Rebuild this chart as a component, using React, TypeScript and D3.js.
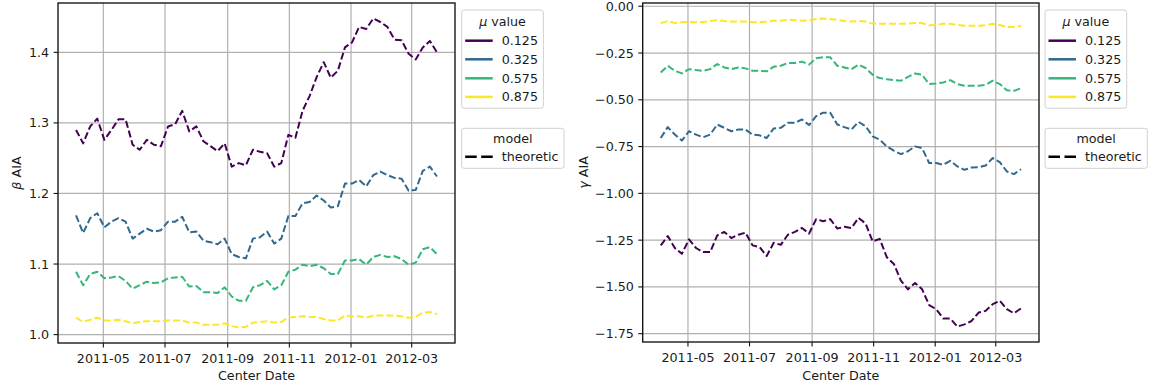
import React from 'react';
import * as d3 from 'd3';

const START_DATE = '2011-04-04';
const N_WEEKS = 52;
const MU_LABELS = ['0.125', '0.325', '0.575', '0.875'];
const MU_COLORS = ['#440154', '#31688e', '#35b779', '#fde725'];
const X_LABEL = 'Center Date';

const betaMu0125 = [
  1.290, 1.271, 1.295, 1.306, 1.276, 1.290, 1.305, 1.305, 1.269, 1.262,
  1.276, 1.269, 1.267, 1.295, 1.298, 1.317, 1.288, 1.295, 1.274, 1.267,
  1.260, 1.271, 1.238, 1.243, 1.240, 1.262, 1.259, 1.257, 1.238, 1.243,
  1.283, 1.279, 1.317, 1.338, 1.365, 1.386, 1.364, 1.374, 1.407, 1.414,
  1.436, 1.433, 1.448, 1.443, 1.436, 1.418, 1.417, 1.398, 1.390, 1.407,
  1.416, 1.400,
];
const betaMu0325 = [
  1.169, 1.144, 1.165, 1.172, 1.152, 1.160, 1.165, 1.160, 1.136, 1.143,
  1.150, 1.146, 1.148, 1.160, 1.160, 1.167, 1.145, 1.146, 1.133, 1.131,
  1.128, 1.136, 1.114, 1.110, 1.108, 1.136, 1.138, 1.146, 1.129, 1.136,
  1.168, 1.168, 1.186, 1.188, 1.197, 1.190, 1.180, 1.182, 1.214, 1.214,
  1.219, 1.210, 1.226, 1.231, 1.226, 1.222, 1.221, 1.204, 1.205, 1.232,
  1.238, 1.224,
];
const betaMu0575 = [
  1.089, 1.070, 1.086, 1.089, 1.080, 1.081, 1.083, 1.076, 1.065, 1.070,
  1.075, 1.073, 1.074, 1.080, 1.081, 1.082, 1.068, 1.069, 1.060, 1.060,
  1.059, 1.067, 1.054, 1.048, 1.048, 1.067, 1.070, 1.076, 1.064, 1.070,
  1.089, 1.092, 1.099, 1.097, 1.099, 1.094, 1.086, 1.086, 1.105, 1.105,
  1.107, 1.099, 1.110, 1.113, 1.110, 1.111, 1.107, 1.099, 1.102, 1.121,
  1.124, 1.114,
];
const betaMu0875 = [
  1.024, 1.018, 1.021, 1.024, 1.020, 1.020, 1.021, 1.019, 1.016, 1.018,
  1.019, 1.019, 1.019, 1.020, 1.020, 1.020, 1.017, 1.017, 1.014, 1.014,
  1.014, 1.016, 1.012, 1.010, 1.011, 1.017, 1.018, 1.019, 1.017, 1.018,
  1.024, 1.025, 1.026, 1.025, 1.025, 1.022, 1.020, 1.020, 1.027, 1.026,
  1.026, 1.024, 1.027, 1.027, 1.027, 1.027, 1.026, 1.024, 1.025, 1.031,
  1.032, 1.029,
];

const gammaMu0125 = [
  -1.278, -1.228, -1.292, -1.323, -1.246, -1.292, -1.314, -1.314, -1.224, -1.206,
  -1.239, -1.221, -1.210, -1.278, -1.287, -1.335, -1.264, -1.275, -1.221, -1.206,
  -1.185, -1.215, -1.138, -1.149, -1.138, -1.188, -1.179, -1.185, -1.131, -1.161,
  -1.257, -1.243, -1.341, -1.377, -1.466, -1.513, -1.479, -1.512, -1.597, -1.619,
  -1.669, -1.669, -1.712, -1.700, -1.682, -1.637, -1.628, -1.592, -1.574, -1.619,
  -1.641, -1.615,
];
const gammaMu0325 = [
  -0.704, -0.646, -0.686, -0.718, -0.668, -0.686, -0.700, -0.686, -0.632, -0.650,
  -0.668, -0.659, -0.659, -0.686, -0.690, -0.704, -0.653, -0.650, -0.623, -0.623,
  -0.605, -0.635, -0.587, -0.569, -0.569, -0.632, -0.646, -0.659, -0.618, -0.641,
  -0.695, -0.713, -0.749, -0.772, -0.790, -0.775, -0.749, -0.758, -0.838, -0.838,
  -0.847, -0.826, -0.856, -0.874, -0.862, -0.860, -0.851, -0.811, -0.833, -0.883,
  -0.897, -0.871,
];
const gammaMu0575 = [
  -0.354, -0.318, -0.345, -0.359, -0.336, -0.341, -0.345, -0.336, -0.309, -0.327,
  -0.336, -0.327, -0.332, -0.345, -0.345, -0.348, -0.323, -0.318, -0.303, -0.303,
  -0.296, -0.312, -0.278, -0.273, -0.273, -0.318, -0.327, -0.336, -0.312, -0.330,
  -0.366, -0.384, -0.390, -0.395, -0.398, -0.377, -0.359, -0.366, -0.416, -0.413,
  -0.407, -0.395, -0.416, -0.425, -0.425, -0.425, -0.420, -0.398, -0.416, -0.449,
  -0.452, -0.438,
];
const gammaMu0875 = [
  -0.090, -0.079, -0.090, -0.086, -0.084, -0.086, -0.084, -0.079, -0.075, -0.079,
  -0.082, -0.082, -0.082, -0.086, -0.086, -0.082, -0.077, -0.077, -0.072, -0.075,
  -0.077, -0.075, -0.068, -0.065, -0.068, -0.073, -0.079, -0.082, -0.079, -0.082,
  -0.093, -0.094, -0.094, -0.094, -0.094, -0.093, -0.090, -0.090, -0.102, -0.100,
  -0.094, -0.094, -0.100, -0.104, -0.104, -0.104, -0.102, -0.094, -0.100, -0.111,
  -0.111, -0.106,
];

const betaTicks = [1.0, 1.1, 1.2, 1.3, 1.4];
const gammaTicks = [0, -0.25, -0.5, -0.75, -1.0, -1.25, -1.5, -1.75];

const startDate = new Date(START_DATE + 'T00:00:00Z');
const dates = d3.range(N_WEEKS).map((i) => d3.utcDay.offset(startDate, 7 * i));

const FONT = "'DejaVu Sans', Verdana, sans-serif";
const FS = 12.7;
const TXT = '#1a1a1a';

type PanelProps = {
  x0: number; x1: number; y0: number; y1: number;
  series: number[][];
  yTicks: number[];
  yFmt: (v: number) => string;
  ySym: string;
  yLabelX: number;
  legendX: number;
};

function Panel(p: PanelProps) {
  const { x0, x1, y0, y1, series, yTicks, yFmt, ySym, yLabelX, legendX } = p;
  const t0 = +dates[0];
  const t1 = +dates[dates.length - 1];
  const span = t1 - t0;
  const xScale = d3
    .scaleUtc()
    .domain([new Date(t0 - 0.05 * span), new Date(t1 + 0.05 * span)])
    .range([x0, x1]);
  const all = series.flat();
  const mn = d3.min(all) as number;
  const mx = d3.max(all) as number;
  const pad = (mx - mn) * 0.05;
  const yScale = d3.scaleLinear().domain([mn - pad, mx + pad]).range([y1, y0]);
  const line = d3
    .line<number>()
    .x((_, i) => xScale(dates[i]))
    .y((d) => yScale(d));
  const xTicks = xScale.ticks(d3.utcMonth.every(2) as any);
  const xFmt = d3.utcFormat('%Y-%m');
  const tickLen = 4.4;

  const l1w = 81.7;
  const l2w = 102.3;
  const lTop = 10;
  const rowY = [40.7, 59.3, 78.3, 96.9];

  return (
    <g>
      {xTicks.map((t, i) => (
        <line key={'gx' + i} x1={xScale(t)} x2={xScale(t)} y1={y0} y2={y1} stroke="#b0b0b0" strokeWidth={1.2} />
      ))}
      {yTicks.map((t, i) => (
        <line key={'gy' + i} x1={x0} x2={x1} y1={yScale(t)} y2={yScale(t)} stroke="#b0b0b0" strokeWidth={1.2} />
      ))}
      {series.map((s, i) => (
        <path
          key={'s' + i}
          d={line(s) || ''}
          fill="none"
          stroke={MU_COLORS[i]}
          strokeWidth={2}
          strokeDasharray="7,3"
          strokeLinejoin="round"
        />
      ))}
      <rect x={x0} y={y0} width={x1 - x0} height={y1 - y0} fill="none" stroke="#111" strokeWidth={1.35} />
      {xTicks.map((t, i) => (
        <g key={'xt' + i}>
          <line x1={xScale(t)} x2={xScale(t)} y1={y1} y2={y1 + tickLen} stroke="#111" strokeWidth={1.1} />
          <text x={xScale(t)} y={y1 + 20} textAnchor="middle" fontFamily={FONT} fontSize={FS} fill={TXT}>
            {xFmt(t)}
          </text>
        </g>
      ))}
      {yTicks.map((t, i) => (
        <g key={'yt' + i}>
          <line x1={x0 - tickLen} x2={x0} y1={yScale(t)} y2={yScale(t)} stroke="#111" strokeWidth={1.1} />
          <text
            x={x0 - tickLen - 4.4}
            y={yScale(t)}
            textAnchor="end"
            dominantBaseline="central"
            fontFamily={FONT}
            fontSize={FS}
            fill={TXT}
          >
            {yFmt(t)}
          </text>
        </g>
      ))}
      <text x={(x0 + x1) / 2} y={379.5} textAnchor="middle" fontFamily={FONT} fontSize={FS} fill={TXT}>
        {X_LABEL}
      </text>
      <text
        transform={`translate(${yLabelX},${(y0 + y1) / 2}) rotate(-90)`}
        textAnchor="middle"
        dominantBaseline="central"
        fontFamily={FONT}
        fontSize={FS}
        fill={TXT}
      >
        <tspan fontStyle="italic">{ySym}</tspan>
        <tspan> AIA</tspan>
      </text>
      <rect x={legendX} y={lTop} width={l1w} height={98.2} rx={2.5} fill="#fff" fillOpacity={0.8} stroke="#d0d0d0" strokeWidth={1} />
      <text x={legendX + l1w / 2} y={20.7} textAnchor="middle" dominantBaseline="central" fontFamily={FONT} fontSize={FS} fill={TXT}>
        <tspan fontStyle="italic">μ</tspan>
        <tspan> value</tspan>
      </text>
      {MU_LABELS.map((lab, i) => (
        <g key={'lg' + i}>
          <line x1={legendX + 3.5} x2={legendX + 31} y1={rowY[i]} y2={rowY[i]} stroke={MU_COLORS[i]} strokeWidth={2.5} />
          <text x={legendX + 40} y={rowY[i]} dominantBaseline="central" fontFamily={FONT} fontSize={FS} fill={TXT}>
            {lab}
          </text>
        </g>
      ))}
      <rect x={legendX} y={128.3} width={l2w} height={40} rx={2.5} fill="#fff" fillOpacity={0.8} stroke="#d0d0d0" strokeWidth={1} />
      <text x={legendX + l2w / 2} y={138.5} textAnchor="middle" dominantBaseline="central" fontFamily={FONT} fontSize={FS} fill={TXT}>
        model
      </text>
      <line
        x1={legendX + 3.5}
        x2={legendX + 31}
        y1={156.7}
        y2={156.7}
        stroke="#000"
        strokeWidth={2.6}
        strokeDasharray="11.5,4.5"
      />
      <text x={legendX + 40} y={156.7} dominantBaseline="central" fontFamily={FONT} fontSize={FS} fill={TXT}>
        theoretic
      </text>
    </g>
  );
}

export default function App() {
  const fmt1 = d3.format('.1f');
  const fmt2 = d3.format('.2f');
  return (
    <svg
      width={1150}
      height={385}
      viewBox="0 0 1150 385"
      style={{ position: 'absolute', left: 0, top: 0, background: '#fff' }}
    >
      <rect x={0} y={0} width={1150} height={385} fill="#fff" />
      <Panel
        x0={58}
        x1={455}
        y0={3}
        y1={343}
        series={[betaMu0125, betaMu0325, betaMu0575, betaMu0875]}
        yTicks={betaTicks}
        yFmt={(v) => fmt1(v)}
        ySym="β"
        yLabelX={16}
        legendX={461.7}
      />
      <Panel
        x0={642.7}
        x1={1039}
        y0={3}
        y1={342}
        series={[gammaMu0125, gammaMu0325, gammaMu0575, gammaMu0875]}
        yTicks={gammaTicks}
        yFmt={(v) => fmt2(v)}
        ySym="γ"
        yLabelX={583}
        legendX={1045}
      />
    </svg>
  );
}
